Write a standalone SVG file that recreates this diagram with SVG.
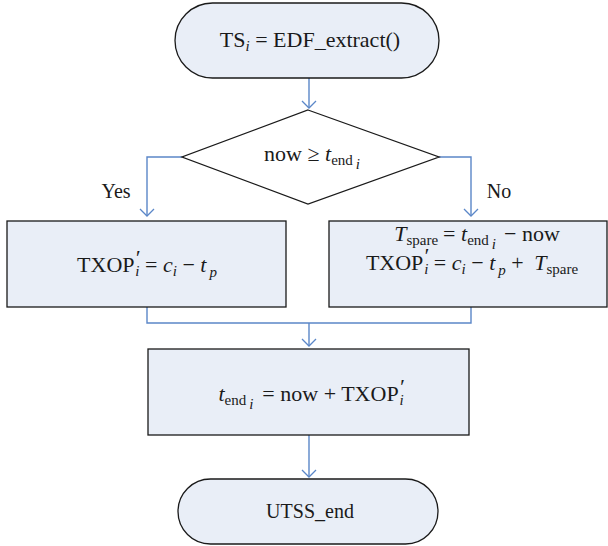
<svg xmlns="http://www.w3.org/2000/svg" width="608" height="546" viewBox="0 0 608 546">
<defs>
<marker id="arr" markerWidth="16" markerHeight="16" refX="8" refY="8" orient="auto" markerUnits="userSpaceOnUse">
<path d="M1,1 L8,8 L1,15" fill="none" stroke="#5B87C8" stroke-width="1.3"/>
</marker>
<style>
.node{fill:#E9EEF7;stroke:#1a1a1a;stroke-width:1.3}
.conn{fill:none;stroke:#5B87C8;stroke-width:1.4}
text{font-family:"Liberation Serif","Times New Roman",serif;font-size:22px;fill:#1a1a1a}
.lbl{font-size:20px}
.it{font-style:italic}
.sub{font-size:15px}
</style>
</defs>
<g id="connectors">
<path class="conn" d="M309,78 L309,108" marker-end="url(#arr)"/>
<path class="conn" d="M182,157 L147,157 L147,216" marker-end="url(#arr)"/>
<path class="conn" d="M439,157 L471,157 L471,216" marker-end="url(#arr)"/>
<path class="conn" d="M147,307 L147,323 L471,323 L471,307"/>
<path class="conn" d="M309,323 L309,346" marker-end="url(#arr)"/>
<path class="conn" d="M309,435 L309,477" marker-end="url(#arr)"/>
</g>
<g id="start">
<rect class="node" x="175" y="3" width="264" height="75" rx="37.5" ry="37.5"/>
<text x="310" y="47" text-anchor="middle">TS<tspan class="it sub" dy="4">i</tspan><tspan dy="-4"> = EDF_extract()</tspan></text>
</g>
<g id="decision">
<polygon class="node" points="308,110 439,157 308,204 182,157" style="fill:#ffffff"/>
<text x="312" y="161" text-anchor="middle">now ≥ <tspan class="it">t</tspan><tspan class="sub" dy="4">end</tspan><tspan class="it sub" dy="4" dx="3">i</tspan></text>
</g>
<g id="label-yes"><text class="lbl" x="116" y="198" text-anchor="middle">Yes</text></g>
<g id="label-no"><text class="lbl" x="499" y="198" text-anchor="middle">No</text></g>
<g id="box-yes">
<rect class="node" x="7" y="221" width="279" height="86"/>
<text x="147" y="272" text-anchor="middle">TXOP<tspan class="it" dy="-7">′</tspan><tspan class="it sub" dx="-4" dy="11">i</tspan><tspan dy="-4"> = </tspan><tspan class="it">c</tspan><tspan class="it sub" dy="4">i</tspan><tspan dy="-4"> − </tspan><tspan class="it">t</tspan><tspan class="it sub" dy="5" dx="3">p</tspan></text>
</g>
<g id="box-no">
<rect class="node" x="329" y="221" width="278" height="86"/>
<text x="477" y="241" text-anchor="middle"><tspan class="it">T</tspan><tspan class="sub" dy="4">spare</tspan><tspan dy="-4" dx="5">= </tspan><tspan class="it">t</tspan><tspan class="sub" dy="4">end</tspan><tspan class="it sub" dy="4" dx="3">i</tspan><tspan dy="-8" dx="8">− now</tspan></text>
<text x="472" y="270" text-anchor="middle">TXOP<tspan class="it" dy="-7">′</tspan><tspan class="it sub" dx="-4" dy="11">i</tspan><tspan dy="-4"> = </tspan><tspan class="it">c</tspan><tspan class="it sub" dy="4">i</tspan><tspan dy="-4"> − </tspan><tspan class="it">t</tspan><tspan class="it sub" dy="5" dx="3">p</tspan><tspan dy="-5"> + </tspan><tspan class="it" dx="5">T</tspan><tspan class="sub" dy="4">spare</tspan></text>
</g>
<g id="box-update">
<rect class="node" x="148" y="349" width="321" height="86"/>
<text x="311" y="401" text-anchor="middle"><tspan class="it">t</tspan><tspan class="sub" dy="4">end</tspan><tspan class="it sub" dy="4" dx="3">i</tspan><tspan dy="-8" dx="9">= now + TXOP</tspan><tspan class="it" dy="-7">′</tspan><tspan class="it sub" dx="-4" dy="11">i</tspan></text>
</g>
<g id="end">
<rect class="node" x="178" y="479" width="260" height="65" rx="32.5" ry="32.5"/>
<text class="lbl" x="310" y="518" text-anchor="middle">UTSS_end</text>
</g>
</svg>
